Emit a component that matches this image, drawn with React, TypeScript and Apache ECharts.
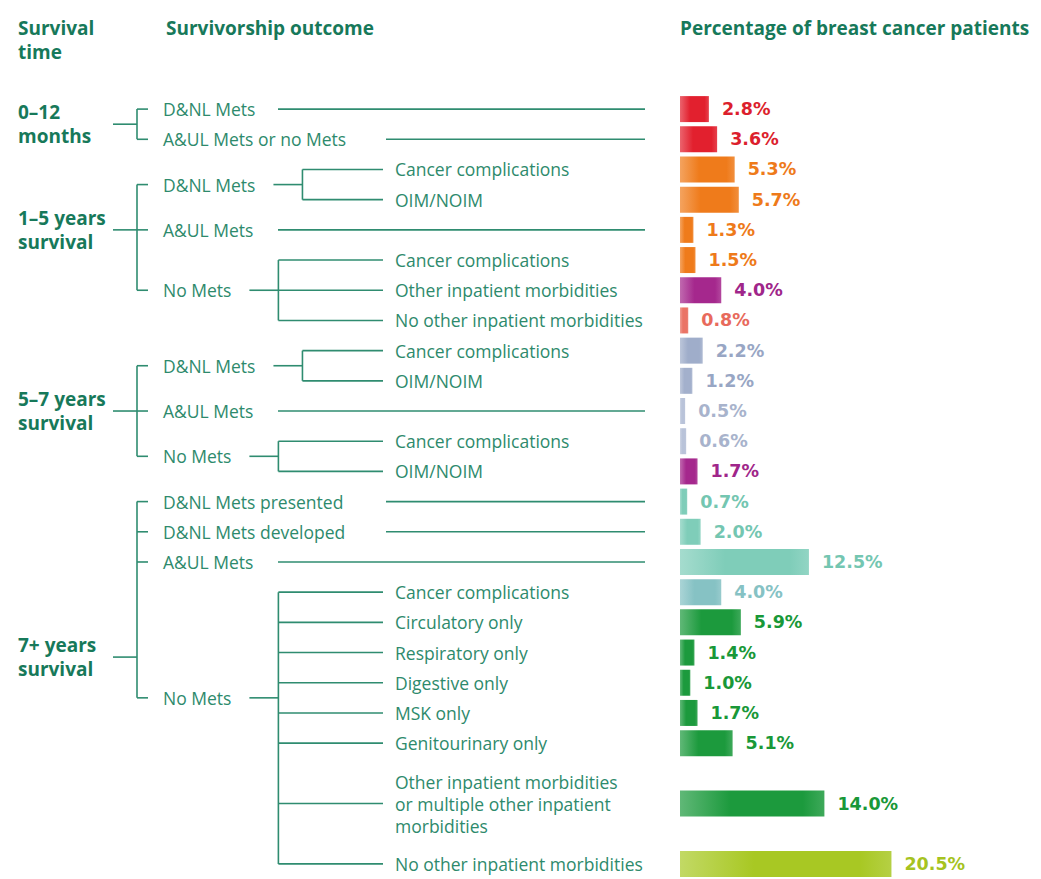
import React, { useEffect, useRef } from "react";
import * as echarts from "echarts";

// ---------- DATA ----------
const rowNames = [
  "0–12 | D&NL Mets",
  "0–12 | A&UL Mets or no Mets",
  "1–5 | D&NL Mets | Cancer complications",
  "1–5 | D&NL Mets | OIM/NOIM",
  "1–5 | A&UL Mets",
  "1–5 | No Mets | Cancer complications",
  "1–5 | No Mets | Other inpatient morbidities",
  "1–5 | No Mets | No other inpatient morbidities",
  "5–7 | D&NL Mets | Cancer complications",
  "5–7 | D&NL Mets | OIM/NOIM",
  "5–7 | A&UL Mets",
  "5–7 | No Mets | Cancer complications",
  "5–7 | No Mets | OIM/NOIM",
  "7+ | D&NL Mets presented",
  "7+ | D&NL Mets developed",
  "7+ | A&UL Mets",
  "7+ | No Mets | Cancer complications",
  "7+ | No Mets | Circulatory only",
  "7+ | No Mets | Respiratory only",
  "7+ | No Mets | Digestive only",
  "7+ | No Mets | MSK only",
  "7+ | No Mets | Genitourinary only",
  "spacer-1",
  "7+ | No Mets | Other inpatient morbidities or multiple",
  "spacer-2",
  "7+ | No Mets | No other inpatient morbidities",
];

const percentages: (number | null)[] = [
  2.8, 3.6, 5.3, 5.7, 1.3, 1.5, 4.0, 0.8, 2.2, 1.2, 0.5, 0.6, 1.7, 0.7, 2.0,
  12.5, 4.0, 5.9, 1.4, 1.0, 1.7, 5.1, null, 14.0, null, 20.5,
];

const barColors: (string | null)[] = [
  "#e2202e", "#e2202e", "#ef7b1b", "#ef7b1b", "#ef7b1b", "#ef7b1b", "#a5288d",
  "#ea7466", "#9fadca", "#a3b0cc", "#b9c3d9", "#b9c3d9", "#a5288d", "#7fcdb9",
  "#7fcdb9", "#7fcdb9", "#86c2c4", "#1c9a3d", "#1c9a3d", "#1c9a3d", "#1c9a3d",
  "#1c9a3d", null, "#1c9a3d", null, "#a8c823",
];

const labelColors: (string | null)[] = [
  "#dc1f2d", "#dc1f2d", "#ee7a1a", "#ee7a1a", "#ee7a1a", "#ee7a1a", "#a0268a",
  "#e86a5c", "#98a6c4", "#98a6c4", "#a8b3cc", "#a8b3cc", "#a0268a", "#74c6b1",
  "#74c6b1", "#74c6b1", "#86c2c4", "#199838", "#199838", "#199838", "#199838",
  "#199838", null, "#199838", null, "#a6c31f",
];

const headers = ["Survival\ntime", "Survivorship outcome", "Percentage of breast cancer patients"];

type Leaf = { label: string; row: number };
type Branch = { label: string; row?: number; at?: number; children?: Leaf[] };

const months0to12: Branch[] = [
  { label: "D&NL Mets", row: 0 },
  { label: "A&UL Mets or no Mets", row: 1 },
];

const years1to5: Branch[] = [
  { label: "D&NL Mets", children: [{ label: "Cancer complications", row: 2 }, { label: "OIM/NOIM", row: 3 }] },
  { label: "A&UL Mets", row: 4 },
  {
    label: "No Mets",
    children: [
      { label: "Cancer complications", row: 5 },
      { label: "Other inpatient morbidities", row: 6 },
      { label: "No other inpatient morbidities", row: 7 },
    ],
  },
];

const years5to7: Branch[] = [
  { label: "D&NL Mets", children: [{ label: "Cancer complications", row: 8 }, { label: "OIM/NOIM", row: 9 }] },
  { label: "A&UL Mets", row: 10 },
  { label: "No Mets", children: [{ label: "Cancer complications", row: 11 }, { label: "OIM/NOIM", row: 12 }] },
];

const years7plus: Branch[] = [
  { label: "D&NL Mets presented", row: 13 },
  { label: "D&NL Mets developed", row: 14 },
  { label: "A&UL Mets", row: 15 },
  {
    label: "No Mets",
    at: 19.5,
    children: [
      { label: "Cancer complications", row: 16 },
      { label: "Circulatory only", row: 17 },
      { label: "Respiratory only", row: 18 },
      { label: "Digestive only", row: 19 },
      { label: "MSK only", row: 20 },
      { label: "Genitourinary only", row: 21 },
      { label: "Other inpatient morbidities\nor multiple other inpatient\nmorbidities", row: 23 },
      { label: "No other inpatient morbidities", row: 25 },
    ],
  },
];

const survivalLabels = ["0–12\nmonths", "1–5 years\nsurvival", "5–7 years\nsurvival", "7+ years\nsurvival"];
const survivalAnchors = [0.5, 4, 10, 18.15];
const survivalBranches = [months0to12, years1to5, years5to7, years7plus];

// ---------- STYLE ----------
const TREE_COLOR = "#2f8c70";
const TEXT_COLOR = "#2e8a6c";
const BOLD_COLOR = "#17795a";
const REG_FONT = "'Open Sans', 'Noto Sans', sans-serif";
const REG_SIZE = 17.5;
const BOLD_SIZE = 19;

const L0_X = 18;
const L0_LINE_X1 = 113;
const BRACKET_X = 137;
const TICK_X2 = 148;
const L1_X = 163;
const L2_LINE_X2 = 383;
const L2_X = 395;
const LEAF_END = 645;
const SHORT_START = 278;
const LONG_START = 386;

function mix(hex: string, t: number): string {
  const n = parseInt(hex.slice(1), 16);
  const r = (n >> 16) & 255, g = (n >> 8) & 255, b = n & 255;
  const m = (c: number) => Math.round(c + (255 - c) * t);
  return `rgb(${m(r)},${m(g)},${m(b)})`;
}

let measureCtx: CanvasRenderingContext2D | null = null;
function textWidth(s: string): number {
  if (!measureCtx) measureCtx = document.createElement("canvas").getContext("2d");
  if (!measureCtx) return s.length * 9;
  measureCtx.font = `${REG_SIZE}px ${REG_FONT}`;
  return Math.max(...s.split("\n").map((l) => measureCtx!.measureText(l).width));
}

function line(x1: number, y1: number, x2: number, y2: number) {
  return {
    type: "line",
    shape: { x1, y1, x2, y2 },
    style: { stroke: TREE_COLOR, lineWidth: 1.6 },
  };
}

function txt(s: string, x: number, y: number, bold = false) {
  return {
    type: "text",
    x,
    y,
    style: {
      text: s,
      fill: bold ? BOLD_COLOR : TEXT_COLOR,
      fontSize: bold ? BOLD_SIZE : REG_SIZE,
      fontWeight: bold ? "bold" : "normal",
      fontFamily: REG_FONT,
      lineHeight: bold ? 24 : 22,
      align: "left",
      verticalAlign: "middle",
    },
  };
}

function renderTree(_params: any, api: any) {
  const y0 = api.coord([0, 0])[1];
  const y1 = api.coord([0, 1])[1];
  const Y = (r: number) => y0 + r * (y1 - y0);
  const children: any[] = [];

  survivalLabels.forEach((lab, gi) => {
    const ya = Y(survivalAnchors[gi]);
    children.push(txt(lab, L0_X, ya, true));
    children.push(line(L0_LINE_X1, ya, BRACKET_X, ya));
    const branches = survivalBranches[gi];
    const bys = branches.map((b) => {
      if (b.at !== undefined) return Y(b.at);
      if (b.row !== undefined) return Y(b.row);
      const c = b.children!;
      return (Y(c[0].row) + Y(c[c.length - 1].row)) / 2;
    });
    children.push(line(BRACKET_X, Math.min(...bys), BRACKET_X, Math.max(...bys)));
    branches.forEach((b, bi) => {
      const yb = bys[bi];
      children.push(line(BRACKET_X, yb, TICK_X2, yb));
      children.push(txt(b.label, L1_X, yb));
      const end = L1_X + textWidth(b.label);
      if (b.row !== undefined) {
        const start = end + 14 <= SHORT_START ? SHORT_START : LONG_START;
        children.push(line(start, yb, LEAF_END, yb));
      } else if (b.children) {
        const dash = end + 18;
        const vx = dash + 29;
        children.push(line(dash, yb, vx, yb));
        const cys = b.children.map((c) => Y(c.row));
        children.push(line(vx, Math.min(...cys), vx, Math.max(...cys)));
        b.children.forEach((c, ci) => {
          children.push(line(vx, cys[ci], L2_LINE_X2, cys[ci]));
          children.push(txt(c.label, L2_X, cys[ci]));
        });
      }
    });
  });

  return { type: "group", children };
}

export default function App() {
  const ref = useRef<HTMLDivElement>(null);

  useEffect(() => {
    if (!ref.current) return;
    const chart = echarts.init(ref.current, undefined, { renderer: "svg" });

    const barData = percentages.map((v, i) => {
      if (v === null) return { value: "-" as any };
      const base = barColors[i]!;
      return {
        value: v,
        itemStyle: {
          color: new echarts.graphic.LinearGradient(0, 0, 1, 0, [
            { offset: 0, color: mix(base, 0.3) },
            { offset: 0.35, color: base },
            { offset: 0.85, color: base },
            { offset: 1, color: mix(base, 0.15) },
          ]),
        },
        label: { color: labelColors[i]! },
      };
    });

    const headerStyle = {
      fill: BOLD_COLOR,
      fontSize: BOLD_SIZE,
      fontWeight: "bold",
      fontFamily: REG_FONT,
      lineHeight: 24,
      verticalAlign: "top",
    };

    chart.setOption({
      animation: false,
      backgroundColor: "#ffffff",
      grid: { left: 680, top: 94, width: 361.5, height: 790 },
      xAxis: { type: "value", min: 0, max: 35, show: false },
      yAxis: {
        type: "category",
        data: rowNames,
        inverse: true,
        show: false,
      },
      graphic: [
        { type: "text", x: L0_X, y: 16, style: { text: headers[0], ...headerStyle } },
        { type: "text", x: 166, y: 16, style: { text: headers[1], ...headerStyle } },
        { type: "text", x: 680, y: 16, style: { text: headers[2], ...headerStyle } },
      ],
      series: [
        {
          type: "custom",
          silent: true,
          clip: false,
          data: [[0, 0]],
          renderItem: renderTree,
        },
        {
          type: "bar",
          data: barData,
          barWidth: 26,
          label: {
            show: true,
            position: "right",
            distance: 13,
            fontFamily: "'DejaVu Sans', sans-serif",
            fontWeight: "bold",
            fontSize: 17.5,
            formatter: (p: any) => `${Number(p.value).toFixed(1)}%`,
          },
        },
      ],
    });

    return () => chart.dispose();
  }, []);

  return (
    <div
      ref={ref}
      style={{ position: "fixed", left: 0, top: 0, width: 1041, height: 879, background: "#fff" }}
    />
  );
}
